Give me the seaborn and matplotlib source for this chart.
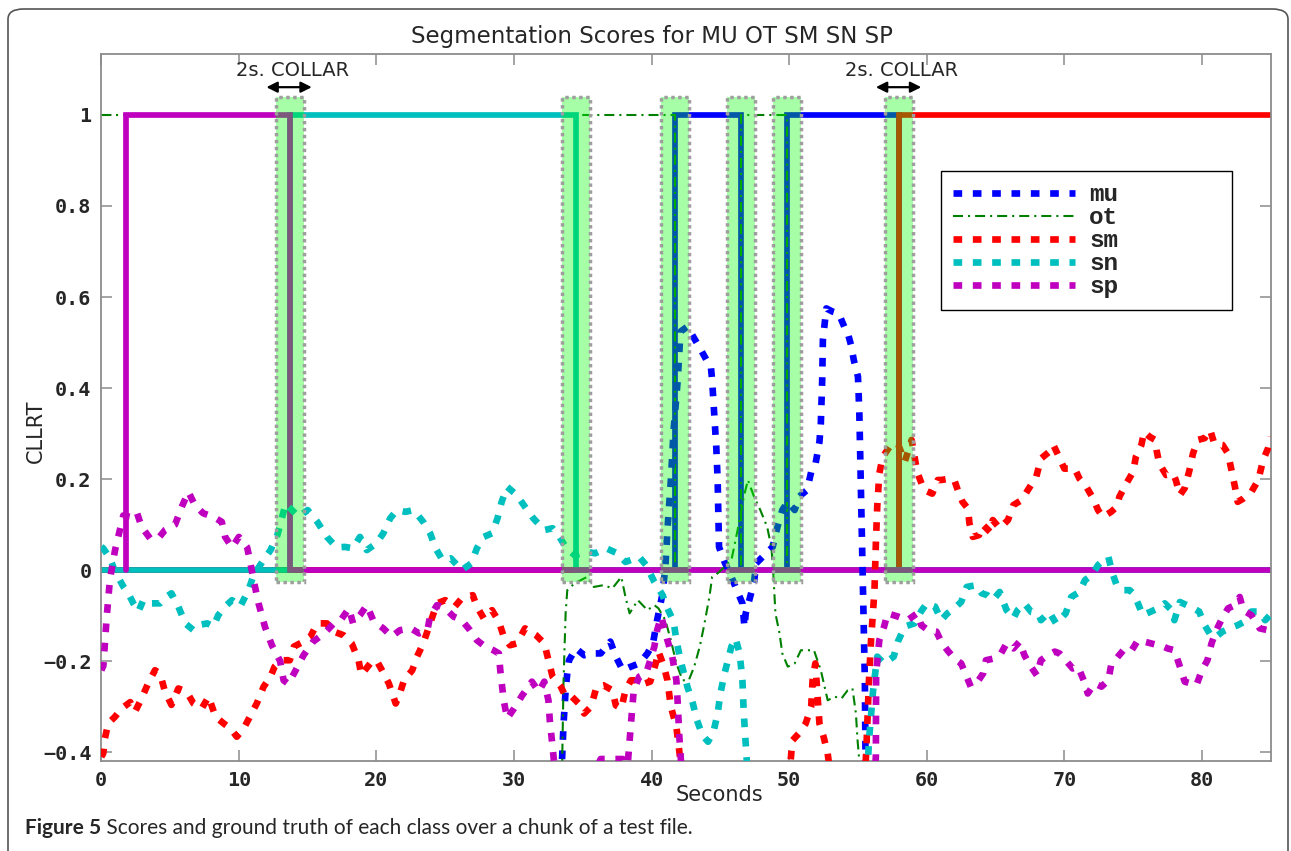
import matplotlib
matplotlib.use("Agg")
import matplotlib.pyplot as plt
from matplotlib.patches import Rectangle, FancyBboxPatch
from matplotlib.font_manager import FontProperties
import seaborn as sns
import pandas as pd

# ---------------- data ----------------
classes = ["mu", "ot", "sm", "sn", "sp"]
class_colors = {"mu": "#0000ff", "ot": "#008000", "sm": "#ff0000", "sn": "#00bfbf", "sp": "#bf00bf"}

# score curves (seconds, CLLRT)
mu_t = [33.3, 33.5, 33.6, 33.75, 33.87, 34.0, 34.5, 35.1, 35.7, 36.3, 37.0, 37.4, 37.9, 38.5, 39.1, 39.7,
        40.1, 40.4, 40.8, 41.0, 41.15, 41.4, 41.6, 41.9, 42.1, 42.6, 43.1, 43.6, 44.0, 44.3, 44.4, 44.55,
        44.7, 44.8, 44.85, 44.9, 45.3, 45.8, 46.2, 46.6, 46.75, 46.84, 47.1, 47.45, 47.6, 48.2, 48.8, 49.15,
        49.5, 49.9, 50.4, 50.7, 51.3, 51.6, 51.9, 52.2, 52.3, 52.4, 52.45, 52.7, 53.15, 53.6, 54.0, 54.2,
        54.5, 54.7, 55.0, 55.1, 55.2, 55.3, 55.4, 55.5, 55.55, 55.7]
mu_v = [-0.5, -0.41, -0.337, -0.264, -0.227, -0.198, -0.172, -0.187, -0.183, -0.183, -0.157, -0.19, -0.22,
        -0.212, -0.205, -0.183, -0.161, -0.11, -0.051, 0.007, 0.088, 0.198, 0.308, 0.418, 0.524, 0.535, 0.509,
        0.483, 0.461, 0.45, 0.417, 0.344, 0.271, 0.198, 0.124, 0.051, 0.018, -0.015, -0.044, -0.073, -0.125,
        -0.095, -0.066, -0.026, 0.015, 0.033, 0.051, 0.095, 0.132, 0.15, 0.132, 0.161, 0.176, 0.216, 0.231,
        0.282, 0.322, 0.418, 0.506, 0.575, 0.568, 0.564, 0.535, 0.527, 0.494, 0.461, 0.425, 0.344, 0.198,
        0.051, -0.095, -0.242, -0.42, -0.5]

ot_t = [33.3, 33.5, 33.6, 33.75, 33.87, 34.4, 35.3, 35.8, 36.5, 37.15, 37.8, 38.1, 38.4, 39.0, 39.7, 40.2,
        40.5, 41.0, 41.4, 41.8, 42.25, 42.7, 43.1, 43.5, 43.8, 44.2, 44.4, 44.8, 45.3, 45.8, 46.25, 46.7,
        47.0, 47.45, 47.9, 48.4, 48.7, 48.8, 48.9, 49.0, 49.3, 49.5, 49.9, 50.4, 50.85, 51.3, 51.8, 52.3,
        52.8, 53.3, 53.8, 54.25, 54.6, 54.85, 54.97, 55.1, 55.3]
ot_v = [-0.5, -0.42, -0.242, -0.095, -0.044, -0.029, -0.015, -0.037, -0.033, -0.04, -0.015, -0.059, -0.095,
        -0.066, -0.088, -0.077, -0.084, -0.11, -0.154, -0.205, -0.242, -0.242, -0.212, -0.168, -0.124, -0.059,
        -0.015, -0.007, 0.007, 0.022, 0.088, 0.161, 0.198, 0.161, 0.132, 0.095, 0.051, 0.015, -0.037, -0.095,
        -0.139, -0.183, -0.212, -0.205, -0.176, -0.176, -0.176, -0.22, -0.286, -0.278, -0.282, -0.264, -0.26,
        -0.315, -0.374, -0.42, -0.5]

sm_t = [0.0, 0.14, 0.26, 0.5, 1.0, 1.48, 2.1, 2.45, 2.93, 3.4, 3.9, 4.27, 4.63, 5.1, 5.6, 6.2, 6.7, 7.3, 7.8,
        8.3, 8.9, 9.4, 9.85, 10.35, 10.8, 11.3, 11.8, 12.3, 12.6, 13.1, 13.7, 14.0, 14.7, 15.2, 15.7, 16.4,
        16.9, 17.6, 18.2, 18.7, 18.9, 19.55, 20.0, 20.4, 20.9, 21.4, 21.7, 22.0, 22.6, 22.95, 23.4, 23.9,
        24.4, 25.0, 25.7, 26.2, 27.0, 27.3, 27.8, 28.4, 28.9, 29.25, 29.7, 30.2, 30.8, 31.6, 32.2, 32.5,
        32.8, 33.4, 33.75, 34.2, 34.7, 35.1, 35.6, 36.0, 36.5, 37.15, 37.4, 37.8, 38.1, 38.5, 39.0, 39.5,
        39.9, 40.3, 40.5, 40.9, 41.15, 41.4, 41.8, 42.0, 42.1, 46.0, 50.1, 50.24, 50.7, 51.2, 51.6, 51.7,
        51.9, 52.2, 52.5, 52.8, 53.0, 55.4, 55.6, 55.8, 55.95, 56.2, 56.3, 56.4, 56.55, 56.8, 57.3, 57.9,
        58.4, 58.9, 59.3, 59.8, 60.4, 60.8, 61.05, 61.65, 62.0, 62.3, 62.6, 63.0, 63.1, 63.35, 63.8, 64.1,
        64.6, 64.8, 65.3, 65.9, 66.3, 66.9, 67.35, 67.96, 68.3, 68.9, 69.2, 69.5, 70.0, 70.75, 71.1, 71.6,
        72.1, 72.45, 72.8, 73.4, 73.8, 74.0, 74.5, 75.0, 75.2, 75.6, 75.8, 76.2, 76.6, 76.7, 76.9, 77.4,
        77.9, 78.1, 78.4, 78.75, 79.1, 79.35, 79.7, 80.2, 80.6, 80.9, 81.5, 81.9, 82.15, 82.4, 82.6, 83.0,
        83.6, 84.1, 84.45, 84.8, 85.0]
sm_v = [-0.41, -0.403, -0.37, -0.337, -0.322, -0.304, -0.29, -0.311, -0.282, -0.249, -0.22, -0.227, -0.267,
        -0.296, -0.26, -0.267, -0.293, -0.304, -0.278, -0.322, -0.337, -0.348, -0.366, -0.348, -0.322, -0.293,
        -0.256, -0.234, -0.212, -0.198, -0.198, -0.168, -0.157, -0.146, -0.117, -0.117, -0.135, -0.143, -0.161,
        -0.198, -0.23, -0.205, -0.198, -0.22, -0.249, -0.293, -0.271, -0.242, -0.22, -0.19, -0.161, -0.117,
        -0.073, -0.066, -0.08, -0.062, -0.055, -0.08, -0.106, -0.088, -0.113, -0.146, -0.165, -0.161, -0.128,
        -0.143, -0.161, -0.198, -0.234, -0.256, -0.278, -0.278, -0.293, -0.315, -0.3, -0.256, -0.253, -0.264,
        -0.297, -0.304, -0.264, -0.242, -0.242, -0.249, -0.245, -0.205, -0.179, -0.212, -0.242, -0.3, -0.344,
        -0.396, -0.42, -0.6, -0.42, -0.374, -0.359, -0.337, -0.3, -0.242, -0.205, -0.337, -0.366, -0.403,
        -0.45, -0.5, -0.4, -0.242, -0.154, -0.044, 0.058, 0.139, 0.212, 0.249, 0.271, 0.278, 0.238, 0.286,
        0.216, 0.176, 0.168, 0.198, 0.198, 0.201, 0.198, 0.172, 0.15, 0.135, 0.103, 0.073, 0.077, 0.099,
        0.084, 0.11, 0.092, 0.11, 0.143, 0.154, 0.176, 0.205, 0.245, 0.26, 0.275, 0.256, 0.223, 0.223,
        0.201, 0.183, 0.157, 0.132, 0.117, 0.128, 0.139, 0.161, 0.19, 0.216, 0.249, 0.275, 0.304, 0.293,
        0.286, 0.264, 0.234, 0.209, 0.212, 0.198, 0.165, 0.18, 0.22, 0.256, 0.286, 0.29, 0.308, 0.278, 0.275,
        0.256, 0.22, 0.183, 0.15, 0.157, 0.172, 0.198, 0.242, 0.267, 0.293]

sn_t = [0.0, 0.14, 0.63, 1.0, 1.6, 1.96, 2.33, 2.7, 3.05, 3.66, 4.27, 4.75, 5.1, 5.6, 6.1, 6.7, 7.2, 7.7,
        8.15, 8.5, 9.0, 9.5, 10.1, 10.7, 11.07, 11.7, 12.3, 12.8, 13.15, 13.4, 14.35, 15.0, 15.7, 16.4, 17.1,
        17.7, 18.3, 18.8, 19.3, 20.0, 20.5, 21.0, 21.5, 22.1, 22.7, 23.4, 23.9, 24.3, 24.8, 25.4, 26.2, 26.9,
        27.3, 27.8, 28.4, 28.8, 29.1, 29.5, 30.2, 30.8, 31.4, 32.2, 32.8, 33.3, 33.75, 34.4, 35.3, 35.9,
        36.7, 37.5, 38.1, 39.1, 39.6, 40.2, 40.8, 41.15, 41.6, 41.8, 42.1, 42.6, 43.0, 43.3, 43.7, 44.1,
        44.5, 44.8, 45.0, 45.3, 45.8, 46.1, 46.4, 46.6, 46.7, 46.9, 47.1, 51.0, 55.6, 55.8, 56.1, 56.4,
        56.9, 57.6, 57.9, 58.4, 59.1, 59.6, 60.0, 60.6, 61.05, 61.5, 62.0, 62.5, 62.9, 63.6, 64.0, 64.4,
        64.8, 65.3, 65.8, 66.3, 66.6, 67.1, 67.6, 68.1, 68.3, 68.9, 69.4, 70.1, 70.5, 71.1, 71.5, 72.0,
        72.45, 72.7, 73.2, 73.5, 73.8, 74.3, 74.75, 75.0, 75.35, 75.7, 76.3, 76.8, 77.3, 77.8, 78.0, 78.4,
        78.9, 79.4, 79.8, 80.2, 80.7, 81.05, 81.5, 82.0, 82.6, 83.1, 83.6, 84.2, 84.6, 84.95]
sn_v = [0.051, 0.048, 0.026, -0.003, -0.036, -0.051, -0.073, -0.091, -0.066, -0.073, -0.073, -0.058, -0.051,
        -0.08, -0.117, -0.132, -0.12, -0.117, -0.124, -0.099, -0.08, -0.066, -0.08, -0.044, -0.011, 0.018,
        0.044, 0.077, 0.117, 0.146, 0.117, 0.132, 0.106, 0.073, 0.05, 0.051, 0.048, 0.073, 0.044, 0.059,
        0.081, 0.114, 0.132, 0.128, 0.132, 0.106, 0.081, 0.048, 0.022, 0.026, 0.0, 0.015, 0.048, 0.073, 0.081,
        0.114, 0.15, 0.183, 0.165, 0.139, 0.114, 0.088, 0.092, 0.073, 0.051, 0.033, 0.04, 0.037, 0.048, 0.037,
        0.018, 0.029, 0.011, -0.026, -0.055, -0.084, -0.113, -0.154, -0.198, -0.256, -0.293, -0.33, -0.363,
        -0.377, -0.355, -0.315, -0.271, -0.227, -0.168, -0.15, -0.183, -0.242, -0.315, -0.41, -0.5, -0.6,
        -0.5, -0.374, -0.264, -0.19, -0.205, -0.19, -0.157, -0.124, -0.117, -0.09, -0.073, -0.08, -0.11,
        -0.095, -0.084, -0.07, -0.037, -0.033, -0.051, -0.055, -0.066, -0.048, -0.088, -0.106, -0.088, -0.073,
        -0.092, -0.095, -0.11, -0.092, -0.117, -0.095, -0.059, -0.048, -0.022, -0.011, 0.011, 0.018, 0.029,
        -0.007, -0.033, -0.044, -0.044, -0.051, -0.073, -0.099, -0.091, -0.084, -0.073, -0.088, -0.11, -0.07,
        -0.077, -0.084, -0.091, -0.121, -0.146, -0.146, -0.135, -0.128, -0.121, -0.113, -0.091, -0.091, -0.11,
        -0.099]

sp_t = [0.0, 0.15, 0.4, 0.63, 1.0, 1.35, 1.6, 2.1, 2.57, 2.93, 3.54, 4.15, 4.63, 5.36, 5.85, 6.33, 6.8, 7.4,
        8.15, 8.76, 9.0, 9.5, 10.0, 10.6, 10.8, 11.07, 11.43, 11.9, 12.4, 13.0, 13.25, 13.6, 14.2, 14.7, 15.4,
        16.2, 16.9, 17.4, 18.0, 18.3, 18.8, 19.3, 19.8, 20.5, 21.1, 21.7, 22.5, 23.1, 23.7, 23.9, 24.4, 25.0,
        25.6, 26.2, 26.8, 27.3, 27.9, 28.5, 28.9, 29.0, 29.25, 29.5, 30.0, 30.6, 31.3, 31.8, 32.2, 32.5, 32.6,
        32.8, 33.0, 35.0, 36.3, 37.9, 38.2, 38.4, 38.6, 38.7, 39.1, 39.6, 39.9, 40.2, 40.4, 40.7, 40.9, 41.15,
        41.5, 41.8, 41.9, 42.0, 42.1, 42.3, 49.0, 56.1, 56.3, 56.32, 56.55, 56.9, 57.15, 57.9, 58.6, 59.3,
        59.6, 60.1, 60.7, 61.05, 61.5, 62.0, 62.5, 62.9, 63.2, 63.7, 64.1, 64.3, 64.9, 65.4, 65.8, 66.3,
        66.75, 67.1, 67.5, 68.0, 68.3, 68.8, 69.3, 69.65, 70.1, 70.6, 71.0, 71.5, 71.7, 72.2, 72.7, 73.2,
        73.4, 73.9, 74.4, 74.9, 75.35, 75.8, 76.3, 76.8, 77.2, 77.5, 78.0, 78.4, 78.75, 79.2, 79.6, 80.0,
        80.4, 80.7, 81.05, 81.4, 81.9, 82.4, 82.75, 83.0, 83.6, 84.2, 84.8, 85.0]
sp_v = [-0.22, -0.21, -0.10, -0.02, 0.044, 0.088, 0.12, 0.117, 0.128, 0.095, 0.07, 0.07, 0.088, 0.10, 0.139,
        0.172, 0.143, 0.125, 0.117, 0.106, 0.073, 0.05, 0.073, 0.05, 0.022, -0.022, -0.073, -0.125, -0.165,
        -0.2, -0.242, -0.25, -0.216, -0.187, -0.157, -0.139, -0.117, -0.11, -0.084, -0.117, -0.099, -0.077,
        -0.113, -0.128, -0.146, -0.132, -0.128, -0.139, -0.132, -0.102, -0.077, -0.084, -0.102, -0.11, -0.132,
        -0.154, -0.168, -0.176, -0.183, -0.22, -0.286, -0.326, -0.304, -0.275, -0.245, -0.267, -0.245, -0.286,
        -0.33, -0.388, -0.45, -0.5, -0.415, -0.415, -0.45, -0.374, -0.3, -0.264, -0.234, -0.227, -0.198,
        -0.168, -0.132, -0.102, -0.124, -0.154, -0.19, -0.242, -0.293, -0.359, -0.403, -0.5, -0.6, -0.5,
        -0.41, -0.227, -0.154, -0.124, -0.095, -0.102, -0.11, -0.095, -0.121, -0.132, -0.135, -0.157, -0.176,
        -0.194, -0.205, -0.234, -0.256, -0.245, -0.227, -0.198, -0.194, -0.183, -0.161, -0.172, -0.157,
        -0.187, -0.209, -0.231, -0.198, -0.187, -0.179, -0.183, -0.198, -0.216, -0.212, -0.249, -0.271,
        -0.249, -0.256, -0.242, -0.209, -0.19, -0.172, -0.176, -0.154, -0.157, -0.161, -0.165, -0.168,
        -0.172, -0.176, -0.212, -0.245, -0.249, -0.253, -0.22, -0.198, -0.161, -0.132, -0.11, -0.084,
        -0.077, -0.059, -0.088, -0.099, -0.128, -0.132, -0.125]

# ground truth step functions (time vertices, level)
gt_mu_t = [0.0, 41.7, 41.7, 46.5, 46.5, 49.85, 49.85, 58.0, 58.0, 85.0]
gt_mu_v = [0, 0, 1, 1, 0, 0, 1, 1, 0, 0]
gt_ot_t = [0.0, 1.8, 1.8, 34.5, 34.5, 41.7, 41.7, 46.5, 46.5, 49.85, 49.85, 85.0]
gt_ot_v = [1, 1, 0, 0, 1, 1, 0, 0, 1, 1, 0, 0]
gt_sm_t = [0.0, 58.0, 58.0, 85.0]
gt_sm_v = [0, 0, 1, 1]
gt_sn_t = [0.0, 13.7, 13.7, 34.5, 34.5, 85.0]
gt_sn_v = [0, 0, 1, 1, 0, 0]
gt_sp_t = [1.8, 1.8, 13.7, 13.7, 85.0]
gt_sp_v = [0, 1, 1, 0, 0]

# segment boundaries with 2 s collars
collar_centers = [13.7, 34.5, 41.7, 46.5, 49.85, 58.0]
collar_width = 2.0
annotated_collars = [13.7, 58.0]

yticks = [-0.4, -0.2, 0, 0.2, 0.4, 0.6, 0.8, 1]
ytick_labels = ["\u22120.4", "\u22120.2", "0", "0.2", "0.4", "0.6", "0.8", "1"]
xticks = [0, 10, 20, 30, 40, 50, 60, 70, 80]
xtick_labels = ["0", "10", "20", "30", "40", "50", "60", "70", "80"]

title = "Segmentation Scores for MU OT SM SN SP"
caption_bold = "Figure 5"
caption_rest = " Scores and ground truth of each class over a chunk of a test file."

# ---------------- plot ----------------
sns.set_style("white")
plt.rcParams["font.family"] = ["DejaVu Sans"]

W, H = 1291, 851
fig = plt.figure(figsize=(W / 100, H / 100), dpi=100)
ax = fig.add_axes([101.3 / W, 1 - 761.3 / H, 1169.4 / W, 707.8 / H])

scores = {"mu": (mu_t, mu_v), "ot": (ot_t, ot_v), "sm": (sm_t, sm_v), "sn": (sn_t, sn_v), "sp": (sp_t, sp_v)}
truths = {"mu": (gt_mu_t, gt_mu_v), "ot": (gt_ot_t, gt_ot_v), "sm": (gt_sm_t, gt_sm_v),
          "sn": (gt_sn_t, gt_sn_v), "sp": (gt_sp_t, gt_sp_v)}

dot_style = (0, (1.3, 1.6))
dashdot_style = (0, (4.8, 2.4, 1.0, 2.4))

# ground truth lines (drawn in class order, all on the same layer)
for c in classes:
    t, v = truths[c]
    df = pd.DataFrame({"t": t, "v": v})
    if c == "ot":
        sns.lineplot(data=df, x="t", y="v", ax=ax, color=class_colors[c], linewidth=1.5,
                     linestyle=dashdot_style, estimator=None, sort=False, zorder=2)
    else:
        sns.lineplot(data=df, x="t", y="v", ax=ax, color=class_colors[c], linewidth=4.1,
                     estimator=None, sort=False, zorder=2, solid_joinstyle="miter")

# scores
handles = []
for c in classes:
    t, v = scores[c]
    df = pd.DataFrame({"t": t, "v": v})
    if c == "ot":
        sns.lineplot(data=df, x="t", y="v", ax=ax, color=class_colors[c], linewidth=1.5,
                     linestyle=dashdot_style, estimator=None, sort=False, zorder=4)
    else:
        sns.lineplot(data=df, x="t", y="v", ax=ax, color=class_colors[c], linewidth=4.8,
                     linestyle=dot_style, estimator=None, sort=False, zorder=4)
    handles.append(ax.lines[-1])

# collars
for b in collar_centers:
    ax.add_patch(Rectangle((b - collar_width / 2, -0.025), collar_width, 1.065,
                           facecolor=(0, 1, 0, 0.35), edgecolor="none", zorder=6))
    ax.add_patch(Rectangle((b - collar_width / 2, -0.025), collar_width, 1.065,
                           facecolor="none", edgecolor=(0.62, 0.62, 0.62), linewidth=2.5,
                           linestyle=(0, (1, 1)), zorder=7))

for b in annotated_collars:
    ax.text(b + 0.2, 1.097, "2s. COLLAR", ha="center", va="center", fontsize=14, zorder=8)
    ax.annotate("", xy=(b - 1.7, 1.061), xytext=(b + 1.6, 1.061),
                arrowprops=dict(arrowstyle="<|-|>", color="k", lw=1.6, mutation_scale=16,
                                shrinkA=0, shrinkB=0), zorder=8)

ax.set_xlim(0, 85)
ax.set_ylim(-0.42, 1.135)
ax.set_xticks(xticks)
ax.set_xticklabels(xtick_labels)
ax.set_yticks(yticks)
ax.set_yticklabels(ytick_labels)
tick_font = FontProperties(family="DejaVu Sans Mono", weight="bold", size=14.5)
for lab in ax.get_xticklabels() + ax.get_yticklabels():
    lab.set_fontproperties(tick_font)
ax.tick_params(direction="in", length=8, width=1.1, color="#8c8c8c", top=True, right=True,
               bottom=True, left=True, pad=7)
for s in ax.spines.values():
    s.set_color("#8c8c8c")
    s.set_linewidth(1.3)
    s.set_visible(True)

ax.set_xlabel("Seconds", fontsize=15)
ax.set_ylabel("CLLRT", fontsize=15)
ax.xaxis.set_label_coords(0.529, -0.034)
ax.yaxis.set_label_coords(-0.0473, 0.467)

leg = ax.legend(handles, classes, loc="upper left", bbox_to_anchor=(0.718, 0.636, 0.249, 0.198),
                mode="expand", frameon=True, fancybox=False, edgecolor="black", framealpha=1,
                prop=FontProperties(family="Liberation Mono", weight="bold", size=17.5),
                handlelength=5.0, handletextpad=0.6, labelspacing=0.0, borderpad=0.5,
                borderaxespad=0)
leg.get_frame().set_linewidth(1.0)
leg.set_zorder(10)

fig.text(652 / W, 1 - 37 / H, title, ha="center", va="center", fontsize=16.5)

# outer rounded frame
fig.patches.append(FancyBboxPatch((8 / W, -0.02), 1280 / W, (851 - 9) / H + 0.02,
                                  boxstyle="round,pad=0,rounding_size=0.012",
                                  transform=fig.transFigure, facecolor="none",
                                  edgecolor="#555555", linewidth=1.2))

# caption
cap_font = "Lato"
t1 = fig.text(25 / W, 1 - 828 / H, caption_bold, ha="left", va="center", fontsize=15,
              fontweight="bold", family=cap_font)
fig.canvas.draw()
bb = t1.get_window_extent(renderer=fig.canvas.get_renderer())
fig.text(bb.x1 / W, 1 - 828 / H, caption_rest, ha="left", va="center", fontsize=15, family=cap_font)

fig.savefig("out.png", dpi=100)
